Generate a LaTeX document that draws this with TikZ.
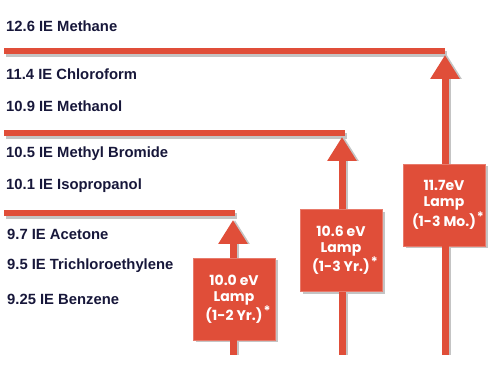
\documentclass[tikz,border=0pt]{standalone}
\usepackage{fontspec}
\setmainfont{Liberation Sans}
\newfontfamily\lampfont{Poppins}[BoldFont={* Bold}]
\usetikzlibrary{arrows.meta,shadows}
\definecolor{lred}{HTML}{E04E39}
\definecolor{navy}{HTML}{17173A}
\definecolor{shade}{HTML}{C4C4C4}
\newcommand{\lampstar}{\rlap{\hspace{1pt}\raisebox{5pt}{\fontsize{13}{13}\selectfont *}}}
\begin{document}
\begin{tikzpicture}[x=1pt,y=-1pt,
  lbl/.style={anchor=west, font=\bfseries\fontsize{14.8}{16}\selectfont, text=navy, inner sep=0pt},
  bar/.style={line width=6pt, draw=lred},
  barshade/.style={line width=6pt, draw=shade},
  shaft/.style={line width=7pt, draw=lred},
  arr/.style={line width=7pt, draw=lred, fill=lred, -{Triangle[width=28pt,length=24pt]}},
  arrshade/.style={line width=7pt, draw=shade, fill=shade, -{Triangle[width=28pt,length=24pt]}},
  lamp/.style={fill=lred, draw=lred!75!white, line width=0.6pt, minimum width=82pt, minimum height=82pt,
    align=center, text=white, font=\lampfont\bfseries\fontsize{14}{16}\selectfont, inner sep=0pt,
    drop shadow={shadow xshift=2.5pt, shadow yshift=-2.5pt, fill=shade, opacity=1}}
]
\useasboundingbox (0,0) rectangle (488,371);
% labels
\node[lbl] (l1) at (6,26) {12.6 IE Methane};
\node[lbl] (l2) at (6,74) {11.4 IE Chloroform};
\node[lbl] (l3) at (6,106) {10.9 IE Methanol};
\node[lbl] (l4) at (6,154) {10.5 IE Methyl Bromide};
\node[lbl] (l5) at (6,186) {10.1 IE Isopropanol};
\node[lbl] (l6) at (7,234) {9.7 IE Acetone};
\node[lbl] (l7) at (7,266) {9.5 IE Trichloroethylene};
\node[lbl] (l8) at (7,299) {9.25 IE Benzene};
% bar coordinates
\coordinate (b1l) at (4,51);  \coordinate (b1r) at (445,51);
\coordinate (b2l) at (4,133); \coordinate (b2r) at (345,133);
\coordinate (b3l) at (4,213); \coordinate (b3r) at (235,213);
% arrow coordinates
\coordinate (t1) at (233,220); \coordinate (s1) at (233,355);
\coordinate (t2) at (342,137); \coordinate (s2) at (342,355);
\coordinate (t3) at (445,55);  \coordinate (s3) at (445,355);
% shadows
\foreach \l/\r in {b1l/b1r,b2l/b2r,b3l/b3r}
  \draw[barshade] ([shift={(2,3)}]\l) -- ([shift={(2,3)}]\r);
\foreach \b/\t in {s1/t1,s2/t2,s3/t3}
  \draw[arrshade] ([shift={(2,0)}]\b) -- ([shift={(2,0)}]\t);
% bars
\foreach \l/\r in {b1l/b1r,b2l/b2r,b3l/b3r}
  \draw[bar] (\l) -- (\r);
% boxes
\node[lamp] (n1) at (234,299) {10.0 eV\\Lamp\\(1-2 Yr.)\lampstar};
\node[lamp] (n2) at (341,250.5) {10.6 eV\\Lamp\\(1-3 Yr.)\lampstar};
\node[lamp] (n3) at (444,205) {11.7eV\\Lamp\\(1-3 Mo.)\lampstar};
% arrows
\foreach \n/\t/\s in {n1/t1/s1,n2/t2/s2,n3/t3/s3}{
  \draw[arr] (\n.north -| \t) -- (\t);
  \draw[shaft] (\s) -- (\n.south -| \s);
}
\end{tikzpicture}
\end{document}
